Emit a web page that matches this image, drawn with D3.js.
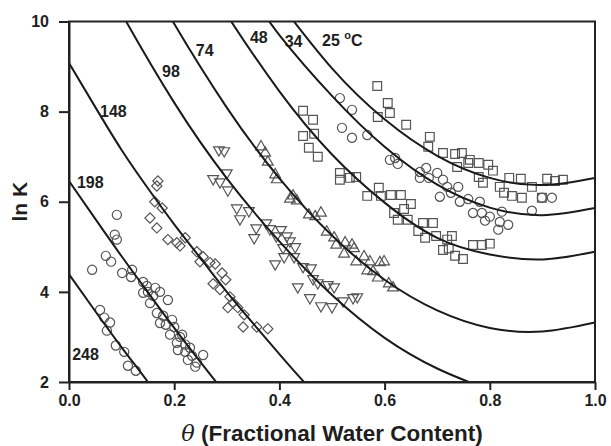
<!DOCTYPE html>
<html><head><meta charset="utf-8">
<script src="https://cdn.jsdelivr.net/npm/d3@7"></script>
<style>
body{margin:0;background:#fff}
svg text{font-family:"Liberation Sans",Arial,sans-serif;font-weight:bold;fill:#1e1e1e}
</style></head><body>
<svg id="c" width="611" height="446"></svg>
<script>
// ---- data ----
const xTicks = [0, 0.2, 0.4, 0.6, 0.8, 1.0];
const yTicks = [2, 4, 6, 8, 10];

// model curves (theta, lnK)
const curve248 = [[0,4.39],[0.05,3.57],[0.1,2.77],[0.15,2.0],[0.18,1.5]];
const curve198 = [[0,6.46],[0.05,5.62],[0.1,4.79],[0.15,3.99],[0.2,3.2],[0.25,2.44],[0.3,1.7]];
const curve148 = [[0,9.08],[0.05,8.1],[0.1,7.15],[0.15,6.3],[0.2,5.5],[0.25,4.75],[0.3,4.0],[0.35,3.3],[0.4,2.62],[0.45,1.96],[0.5,1.35]];
const curve98  = [[0.05,11.27],[0.1,10.18],[0.2,8.2],[0.3,6.52],[0.4,5.12],[0.5,3.93],[0.6,2.98],[0.7,2.3],[0.8,1.82]];
const curve74  = [[0.15,11.0],[0.2,9.95],[0.3,8.09],[0.4,6.52],[0.5,5.25],[0.6,4.27],[0.7,3.59],[0.8,3.2],[0.9,3.12],[1.0,3.32]];
const curve48  = [[0.25,11.1],[0.3,10.15],[0.4,8.45],[0.5,7.05],[0.6,5.98],[0.7,5.2],[0.8,4.83],[0.9,4.72],[1.0,4.89]];
const curve34  = [[0.35,10.54],[0.4,9.7],[0.5,8.35],[0.6,7.22],[0.7,6.38],[0.8,5.87],[0.9,5.7],[1.0,5.86]];
const curve25  = [[0.4,10.42],[0.5,8.96],[0.6,7.83],[0.7,7.02],[0.8,6.53],[0.9,6.37],[1.0,6.53]];

// curve labels: text, theta, lnK (baseline-left)
const curveLabels = [
  ["248", 0.006, 2.49],
  ["198", 0.015, 6.31],
  ["148", 0.059, 7.88],
  ["98",  0.177, 8.77],
  ["74",  0.241, 9.24],
  ["48",  0.344, 9.52],
  ["34",  0.410, 9.43],
  ["25",  0.481, 9.46]
];

// measured points (theta, lnK)
const pts248 = [[.059,3.60],[.067,3.43],[.078,3.32],[.072,3.14],[.089,2.81],[.105,2.67],[.112,2.36],[.127,2.25]];
const pts198 = [[.091,5.71],[.087,5.27],[.091,5.16],[.070,4.80],[.080,4.67],[.044,4.49],[.101,4.42],[.120,4.49],[.118,4.33],[.141,4.22],[.148,4.13],[.150,4.00],[.141,3.98],[.160,3.91],[.173,4.00],[.188,3.82],[.154,3.75],[.167,3.53],[.179,3.47],[.173,3.31],[.184,3.27],[.200,3.22],[.192,3.05],[.211,3.00],[.205,2.87],[.215,3.05],[.207,2.71],[.221,2.83],[.221,2.67],[.226,2.49],[.234,2.58],[.243,2.43],[.255,2.60],[.240,2.34],[.164,4.09],[.196,3.38],[.230,2.76]];
const pts148 = [[.169,6.46],[.167,6.35],[.163,6.00],[.177,5.86],[.154,5.64],[.167,5.42],[.188,5.16],[.205,5.09],[.221,5.20],[.211,5.02],[.243,4.89],[.255,4.78],[.249,4.67],[.268,4.65],[.278,4.62],[.291,4.42],[.274,4.18],[.287,4.05],[.306,3.89],[.312,3.76],[.302,3.65],[.321,3.65],[.333,3.49],[.331,3.22],[.357,3.22],[.378,3.18],[.298,4.27]];
const pts98 = [[.285,7.15],[.295,7.13],[.274,6.51],[.287,6.44],[.300,6.64],[.302,6.26],[.319,5.86],[.325,5.62],[.342,5.80],[.352,5.20],[.356,5.42],[.375,5.53],[.382,5.40],[.394,5.24],[.403,5.38],[.414,5.24],[.420,5.13],[.430,5.00],[.407,4.98],[.409,4.78],[.428,4.78],[.392,4.62],[.445,4.56],[.460,4.53],[.464,4.29],[.435,4.11],[.473,4.20],[.492,4.16],[.504,4.11],[.458,3.87],[.479,3.69],[.500,3.67],[.521,3.80],[.540,3.87],[.548,3.89]];
const pts74 = [[.365,7.22],[.373,7.08],[.378,6.88],[.395,6.49],[.426,6.13],[.433,6.02],[.420,6.06],[.456,5.71],[.468,5.67],[.479,5.75],[.490,5.33],[.504,5.20],[.508,5.04],[.525,5.09],[.538,5.04],[.542,4.96],[.523,4.84],[.546,4.67],[.561,4.78],[.572,4.67],[.591,4.65],[.599,4.67],[.567,4.47],[.578,4.45],[.587,4.31],[.608,4.18],[.616,4.09],[.392,6.60]];
const pts48 = [[.445,8.02],[.464,7.82],[.445,7.46],[.466,7.51],[.456,7.20],[.473,7.00],[.515,6.64],[.515,6.49],[.534,6.53],[.546,6.55],[.567,6.13],[.589,6.31],[.593,6.13],[.612,6.15],[.631,6.15],[.650,5.95],[.637,5.84],[.618,5.75],[.625,5.60],[.644,5.60],[.673,5.53],[.692,5.53],[.664,5.35],[.677,5.20],[.698,5.24],[.728,5.24],[.711,4.93],[.722,4.96],[.734,4.80],[.749,4.73],[.768,5.04],[.785,5.04],[.800,5.07],[.719,5.16]];
const pts34 = [[.515,8.30],[.538,8.04],[.519,7.64],[.538,7.42],[.567,7.48],[.610,6.93],[.620,6.97],[.625,6.84],[.667,6.66],[.679,6.75],[.700,6.64],[.667,6.53],[.684,6.53],[.711,6.49],[.719,6.33],[.740,6.33],[.726,6.20],[.705,6.11],[.743,6.00],[.759,6.06],[.781,6.00],[.768,5.75],[.785,5.75],[.800,5.67],[.791,5.58],[.823,5.78],[.819,5.55],[.835,5.49],[.816,5.38],[.880,5.80],[.918,6.09],[.899,6.09]];
const pts25 = [[.586,8.57],[.606,8.19],[.610,7.97],[.587,7.88],[.641,7.71],[.686,7.44],[.683,7.22],[.711,7.08],[.734,7.06],[.747,7.08],[.738,6.77],[.759,6.86],[.779,6.86],[.797,6.82],[.806,6.69],[.779,6.55],[.787,6.42],[.819,6.33],[.837,6.53],[.859,6.51],[.827,6.20],[.842,6.13],[.861,6.09],[.880,6.33],[.899,6.09],[.909,6.51],[.924,6.46],[.939,6.49],[.762,6.93]];

// ---- drawing ----
const svg = d3.select("#c");
const x = d3.scaleLinear().domain([0, 1]).range([69, 595]);
const y = d3.scaleLinear().domain([2, 10]).range([382, 21.5]);

svg.append("defs").append("clipPath").attr("id","plot")
  .append("rect").attr("x",x(0)).attr("y",y(10)).attr("width",x(1)-x(0)).attr("height",y(2)-y(10));

const markColor = "#555";
const series = [
  {data: pts248, type: d3.symbolCircle, size: 66, rot: 0},
  {data: pts198, type: d3.symbolCircle, size: 66, rot: 0},
  {data: pts148, type: d3.symbolSquare, size: 52, rot: 45},
  {data: pts98,  type: d3.symbolTriangle, size: 50, rot: 180},
  {data: pts74,  type: d3.symbolTriangle, size: 50, rot: 0},
  {data: pts48,  type: d3.symbolSquare, size: 76, rot: 0},
  {data: pts34,  type: d3.symbolCircle, size: 66, rot: 0},
  {data: pts25,  type: d3.symbolSquare, size: 76, rot: 0}
];
const gPts = svg.append("g");
series.forEach(s => {
  gPts.selectAll(null).data(s.data).enter().append("path")
    .attr("d", d3.symbol().type(s.type).size(s.size))
    .attr("transform", d => `translate(${x(d[0])},${y(d[1])}) rotate(${s.rot})`)
    .attr("fill", "none").attr("stroke", markColor).attr("stroke-width", 1.2);
});

const line = d3.line().x(d => x(d[0])).y(d => y(d[1])).curve(d3.curveNatural);
const gCurves = svg.append("g").attr("clip-path","url(#plot)");
[curve248, curve198, curve148, curve98, curve74, curve48, curve34, curve25].forEach(c => {
  gCurves.append("path").attr("d", line(c)).attr("fill","none")
    .attr("stroke","#1a1a1a").attr("stroke-width",2);
});

// frame
svg.append("rect").attr("x",x(0)).attr("y",y(10)).attr("width",x(1)-x(0)).attr("height",y(2)-y(10))
  .attr("fill","none").attr("stroke","#222").attr("stroke-width",2);

// axes
const xAxis = svg.append("g").attr("transform",`translate(0,${y(2)})`)
  .call(d3.axisBottom(x).tickValues(xTicks).tickFormat(d3.format(".1f")).tickSize(8).tickSizeOuter(0));
const yAxis = svg.append("g").attr("transform",`translate(${x(0)},0)`)
  .call(d3.axisLeft(y).tickValues(yTicks).tickFormat(d3.format("d")).tickSize(10).tickSizeOuter(0));
[xAxis, yAxis].forEach(g => {
  g.select(".domain").attr("stroke","#222").attr("stroke-width",2);
  g.selectAll(".tick line").attr("stroke","#222").attr("stroke-width",2);
  g.selectAll(".tick text").attr("font-size",16).attr("font-family",null).attr("fill","#1e1e1e");
});
xAxis.selectAll(".tick text").attr("dy","0.71em").attr("y",13);
yAxis.selectAll(".tick text").attr("x",-20);

// curve labels
const gLab = svg.append("g");
curveLabels.forEach(l => {
  const t = gLab.append("text").attr("x", x(l[1])).attr("y", y(l[2])).attr("font-size",16);
  t.append("tspan").text(l[0]);
  if (l[0] === "25") {
    t.append("tspan").text(" ");
    t.append("tspan").attr("dy",-7).attr("font-size",11).text("o");
    t.append("tspan").attr("dy",7).text("C");
  }
});

// axis titles
const xt = svg.append("text").attr("x", (x(0)+x(1))/2).attr("y", 441).attr("text-anchor","middle").attr("font-size",22.5);
xt.append("tspan").attr("font-style","italic").attr("font-family","'DejaVu Serif',serif").attr("font-weight","normal").text("θ");
xt.append("tspan").text(" (Fractional Water Content)");

svg.append("text").attr("transform",`translate(27,${y(6)}) rotate(-90)`)
  .attr("text-anchor","middle").attr("font-size",21).text("ln K");
</script>
</body></html>
